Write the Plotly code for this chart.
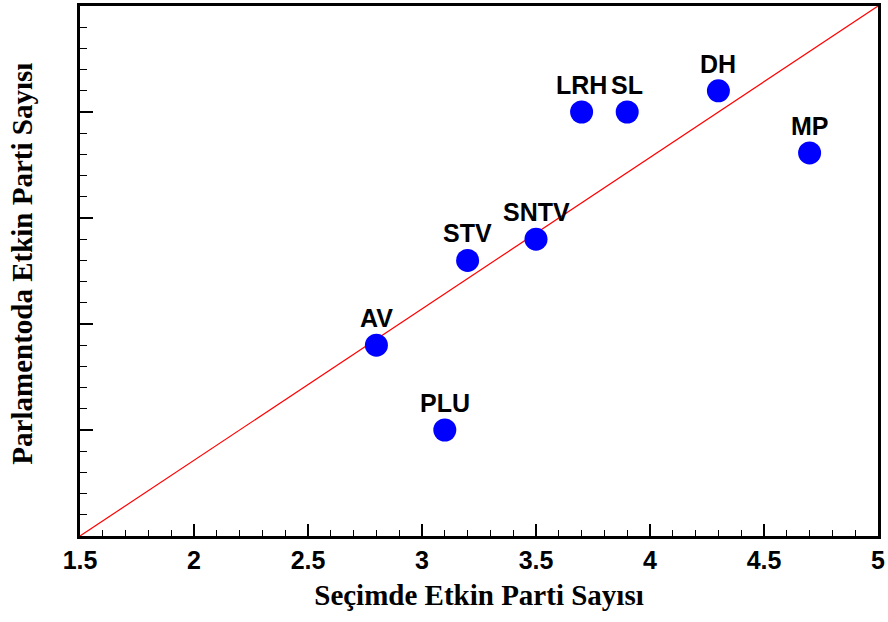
import plotly.graph_objects as go

# Electoral systems: effective number of parties (votes vs. seats)
systems = ["AV", "PLU", "STV", "SNTV", "LRH", "SL", "DH", "MP"]
electoral_enp = [2.8, 3.1, 3.2, 3.5, 3.7, 3.9, 4.3, 4.7]
parliament_enp = [2.76, 2.2, 3.32, 3.46, 4.3, 4.3, 4.44, 4.03]

# Reference line y = x
ref_line = [1.5, 5.0]

x_ticks = [1.5, 2, 2.5, 3, 3.5, 4, 4.5, 5]
x_tick_text = ["1.5", "2", "2.5", "3", "3.5", "4", "4.5", "5"]

label_font = dict(family="Arial, Liberation Sans, sans-serif", size=25, color="black")
title_font = dict(family="Times New Roman, Liberation Serif, serif", size=29, color="black")

fig = go.Figure()

fig.add_trace(go.Scatter(
    x=ref_line, y=ref_line, mode="lines",
    line=dict(color="red", width=1.2),
    hoverinfo="skip", showlegend=False,
))

fig.add_trace(go.Scatter(
    x=electoral_enp, y=parliament_enp, mode="markers",
    marker=dict(color="#0000FF", size=23, line=dict(width=0)),
    text=systems, showlegend=False,
))

for name, xv, yv in zip(systems, electoral_enp, parliament_enp):
    fig.add_annotation(
        x=xv, y=yv, text=f"<b>{name}</b>", showarrow=False,
        xanchor="center", yanchor="middle", yshift=27, font=label_font,
    )

fig.add_annotation(
    xref="paper", yref="paper", x=-0.072, y=0.513,
    text="<b>Parlamentoda Etkin Parti Sayısı</b>", textangle=-90,
    showarrow=False, xanchor="center", yanchor="middle", font=title_font,
)

fig.update_layout(
    width=888, height=622,
    margin=dict(l=80, r=9, t=3, b=86),
    paper_bgcolor="white", plot_bgcolor="white",
    xaxis=dict(
        range=[1.5, 5], tickvals=x_ticks, ticktext=[f"<b>{t}</b>" for t in x_tick_text],
        ticks="inside", ticklen=12, tickwidth=1.5, tickcolor="black",
        minor=dict(dtick=0.1, tick0=1.5, ticks="inside", ticklen=6, tickwidth=1.2, tickcolor="black"),
        tickfont=label_font, ticklabelstandoff=0,
        showgrid=False, zeroline=False,
        showline=True, linecolor="black", linewidth=2.5, mirror=True,
        title=dict(text="<b>Seçimde Etkin Parti Sayısı</b>", font=title_font, standoff=12),
    ),
    yaxis=dict(
        range=[1.5, 5], tick0=1.5, dtick=0.7, showticklabels=False,
        ticks="inside", ticklen=13, tickwidth=1.5, tickcolor="black",
        minor=dict(dtick=0.14, tick0=1.5, ticks="inside", ticklen=7, tickwidth=1.2, tickcolor="black"),
        showgrid=False, zeroline=False,
        showline=True, linecolor="black", linewidth=2.5, mirror=True,
    ),
)

fig.write_html("out.html")
